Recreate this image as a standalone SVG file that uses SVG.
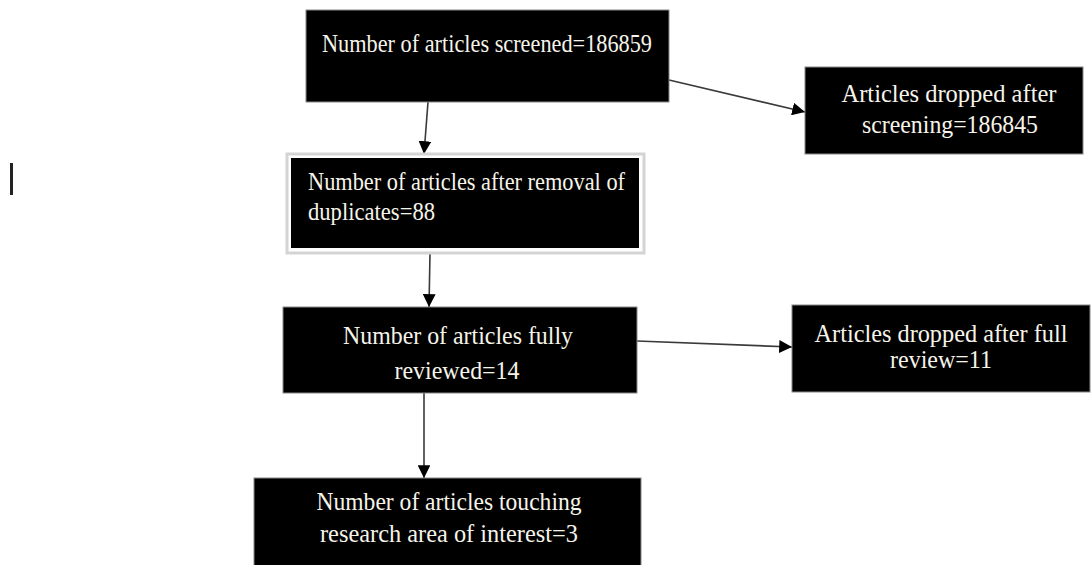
<svg xmlns="http://www.w3.org/2000/svg" width="1091" height="565" viewBox="0 0 1091 565">
<style>
.box{fill:#000;stroke:#888;stroke-width:1}
.t{font-family:"Liberation Serif","Times New Roman",serif;font-size:25px;fill:#f6f4ea}
.c{text-anchor:middle}
.conn{stroke:#3a3a3a;stroke-width:1.6;fill:none;marker-end:url(#ah)}
</style>
<defs>
<marker id="ah" viewBox="0 0 10 10" refX="10" refY="5" markerWidth="8" markerHeight="8" markerUnits="strokeWidth" orient="auto">
<path d="M0,0 L10,5 L0,10 z" fill="#000"/>
</marker>
</defs>
<rect width="1091" height="565" fill="#fff"/>
<rect x="10" y="163" width="3" height="32" fill="#222"/>
<g id="connectors">
<line class="conn" x1="428" y1="102" x2="424" y2="154"/>
<line class="conn" x1="669" y1="80" x2="805" y2="112"/>
<line class="conn" x1="430" y1="253" x2="429" y2="307"/>
<line class="conn" x1="637" y1="341" x2="792" y2="347"/>
<line class="conn" x1="424" y1="393" x2="424" y2="478"/>
</g>
<g id="n1">
<rect class="box" x="306" y="10" width="363" height="92"/>
<text class="t c" x="487" y="52" textLength="330" lengthAdjust="spacingAndGlyphs">Number of articles screened=186859</text>
</g>
<g id="n2">
<rect class="box" x="805" y="67" width="278" height="87"/>
<text class="t c" x="949" y="102" textLength="215" lengthAdjust="spacingAndGlyphs">Articles dropped after</text>
<text class="t c" x="950" y="133" textLength="176" lengthAdjust="spacingAndGlyphs">screening=186845</text>
</g>
<g id="n3">
<rect x="287" y="154" width="357" height="99" fill="#fff" stroke="#d4d4d4" stroke-width="3"/>
<rect x="291" y="158" width="348" height="90" fill="#000"/>
<text class="t" x="308" y="190" textLength="317" lengthAdjust="spacingAndGlyphs">Number of articles after removal of</text>
<text class="t" x="308" y="220" textLength="127" lengthAdjust="spacingAndGlyphs">duplicates=88</text>
</g>
<g id="n4">
<rect class="box" x="283" y="307" width="354" height="86"/>
<text class="t c" x="458" y="344" textLength="230" lengthAdjust="spacingAndGlyphs">Number of articles fully</text>
<text class="t c" x="457" y="379" textLength="125" lengthAdjust="spacingAndGlyphs">reviewed=14</text>
</g>
<g id="n5">
<rect class="box" x="792" y="305" width="298" height="87"/>
<text class="t c" x="941" y="342" textLength="253" lengthAdjust="spacingAndGlyphs">Articles dropped after full</text>
<text class="t c" x="941" y="368" textLength="102" lengthAdjust="spacingAndGlyphs">review=11</text>
</g>
<g id="n6">
<rect class="box" x="254" y="478" width="387" height="90"/>
<text class="t c" x="449" y="510" textLength="265" lengthAdjust="spacingAndGlyphs">Number of articles touching</text>
<text class="t c" x="449" y="542" textLength="258" lengthAdjust="spacingAndGlyphs">research area of interest=3</text>
</g>
</svg>
